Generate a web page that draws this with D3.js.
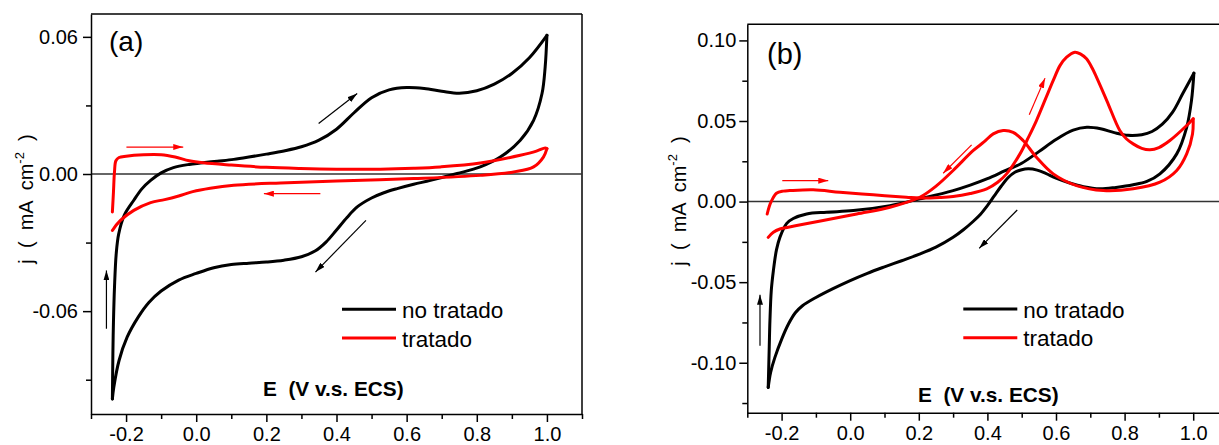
<!DOCTYPE html>
<html>
<head>
<meta charset="utf-8">
<script src="https://cdn.jsdelivr.net/npm/d3@7"></script>
<style>
  body { margin: 0; background: #fff; }
  text { font-family: "Liberation Sans", Arial, sans-serif; fill: #000; }
</style>
</head>
<body>
<svg id="chart" width="1219" height="445"></svg>
<script>
// ---------- Panel (a): cyclic voltammograms, E (V) vs j (mA cm^-2) ----------
const aUntreatedAnodic = [
  [-0.239,-0.0984],[-0.2376,-0.0786],[-0.236,-0.065],[-0.233,-0.0495],[-0.228,-0.0347],
  [-0.221,-0.0262],[-0.205,-0.018],[-0.178,-0.0115],[-0.155,-0.0065],[-0.13,-0.0028],
  [-0.1,0.0005],[-0.065,0.0028],[-0.02,0.0042],[0.012,0.0048],[0.06,0.0056],[0.107,0.0064],
  [0.15,0.0074],[0.2,0.0087],[0.25,0.0101],[0.3,0.0119],[0.35,0.0148],[0.4,0.0196],
  [0.45,0.0268],[0.5,0.0334],[0.55,0.0368],[0.6,0.0378],[0.65,0.0374],[0.7,0.0362],
  [0.75,0.0353],[0.8,0.0364],[0.85,0.0393],[0.9,0.044],[0.95,0.0509],[1.0,0.0607]
];
const aUntreatedCathodic = [
  [1.0,0.0607],[0.995,0.0469],[0.986,0.0352],[0.962,0.0235],[0.924,0.0148],[0.867,0.0074],
  [0.81,0.0031],[0.744,0.0002],[0.668,-0.0028],[0.62,-0.0045],[0.573,-0.0064],[0.535,-0.0082],
  [0.5,-0.0105],[0.46,-0.0143],[0.43,-0.019],[0.4,-0.0245],[0.37,-0.0298],[0.34,-0.0336],
  [0.3,-0.0362],[0.25,-0.0377],[0.2,-0.0385],[0.15,-0.039],[0.1,-0.0396],[0.05,-0.041],
  [0.0,-0.0435],[-0.05,-0.0464],[-0.1,-0.0512],[-0.135,-0.0562],[-0.165,-0.0625],
  [-0.197,-0.0714],[-0.22,-0.0816],[-0.235,-0.0933],[-0.239,-0.0984]
];
const aTreatedAnodic = [
  [-0.239,-0.0166],[-0.236,-0.008],[-0.233,0.001],[-0.229,0.0058],[-0.22,0.0072],
  [-0.2,0.0078],[-0.15,0.0084],[-0.1,0.0084],[-0.06,0.0074],[-0.02,0.0058],[0.02,0.0049],
  [0.1,0.0039],[0.2,0.0029],[0.297,0.0024],[0.4,0.0021],[0.525,0.0021],[0.62,0.0025],
  [0.696,0.0031],[0.81,0.0048],[0.924,0.0082],[0.97,0.01],[0.995,0.0114],[1.0,0.0111]
];
const aTreatedCathodic = [
  [1.0,0.0111],[0.99,0.0074],[0.962,0.0031],[0.905,0.0009],[0.81,-0.0006],[0.62,-0.002],
  [0.4,-0.0031],[0.24,-0.0039],[0.107,-0.0049],[0.04,-0.0062],[-0.01,-0.0077],
  [-0.05,-0.0096],[-0.09,-0.0112],[-0.13,-0.0125],[-0.178,-0.0159],[-0.216,-0.0203],
  [-0.239,-0.0247]
];

// ---------- Panel (b) ----------
const bUntreatedAnodic = [
  [-0.239,-0.1153],[-0.236,-0.09],[-0.234,-0.0739],[-0.23,-0.055],[-0.224,-0.0429],
  [-0.215,-0.03],[-0.205,-0.0222],[-0.185,-0.0135],[-0.166,-0.0105],[-0.127,-0.0077],
  [-0.069,-0.0066],[0.009,-0.0056],[0.116,-0.0025],[0.203,0.0017],[0.3,0.0068],
  [0.35,0.0102],[0.4,0.0142],[0.45,0.019],[0.5,0.0238],[0.55,0.031],[0.6,0.0385],
  [0.65,0.0443],[0.69,0.0461],[0.73,0.0452],[0.77,0.0428],[0.81,0.0411],[0.85,0.0415],
  [0.88,0.0435],[0.91,0.048],[0.94,0.0555],[0.97,0.0672],[1.002,0.0797]
];
const bUntreatedCathodic = [
  [1.002,0.0797],[0.995,0.0627],[0.981,0.0461],[0.952,0.0296],[0.903,0.0172],[0.865,0.0125],
  [0.825,0.0104],[0.775,0.0088],[0.728,0.0079],[0.68,0.0092],[0.64,0.0115],[0.6,0.0145],
  [0.57,0.0175],[0.545,0.0195],[0.52,0.0203],[0.5,0.0198],[0.48,0.0182],[0.46,0.0148],
  [0.44,0.0095],[0.42,0.0035],[0.4,-0.0025],[0.38,-0.0078],[0.359,-0.0122],[0.33,-0.0175],
  [0.3,-0.0222],[0.25,-0.0283],[0.2,-0.0328],[0.15,-0.0367],[0.1,-0.0405],[0.05,-0.0445],
  [0.0,-0.049],[-0.05,-0.054],[-0.1,-0.0595],[-0.14,-0.0648],[-0.16,-0.069],[-0.18,-0.076],
  [-0.2,-0.0855],[-0.22,-0.097],[-0.232,-0.106],[-0.239,-0.1153]
];
const bTreatedAnodic = [
  [-0.242,-0.0077],[-0.236,-0.003],[-0.229,0.0006],[-0.215,0.0052],[-0.195,0.0065],
  [-0.176,0.0068],[-0.108,0.0073],[-0.03,0.0058],[0.067,0.0042],[0.164,0.0027],
  [0.203,0.0022],[0.261,0.0025],[0.3,0.0031],[0.35,0.005],[0.398,0.0079],[0.43,0.012],
  [0.456,0.0172],[0.495,0.0296],[0.52,0.04],[0.543,0.0503],[0.57,0.064],[0.592,0.0752],
  [0.612,0.0845],[0.631,0.0896],[0.655,0.0927],[0.672,0.0915],[0.689,0.0886],[0.705,0.083],
  [0.718,0.0772],[0.748,0.0627],[0.786,0.0441],[0.805,0.039],[0.825,0.0358],[0.85,0.033],
  [0.874,0.0321],[0.9,0.0335],[0.932,0.0379],[0.981,0.0472],[1.0,0.0514]
];
const bTreatedCathodic = [
  [1.0,0.0514],[0.998,0.042],[0.981,0.0296],[0.952,0.0193],[0.903,0.012],[0.825,0.0079],
  [0.738,0.0068],[0.66,0.0099],[0.592,0.0172],[0.543,0.0275],[0.504,0.0379],[0.475,0.043],
  [0.446,0.0441],[0.417,0.042],[0.39,0.037],[0.359,0.0317],[0.3,0.0193],[0.252,0.0099],
  [0.203,0.0027],[0.116,-0.0035],[0.019,-0.0077],[-0.079,-0.0118],[-0.156,-0.0149],
  [-0.205,-0.017],[-0.224,-0.019],[-0.239,-0.0222]
];

// ---------- Scan-direction arrows: [E1, j1, E2, j2, series] ----------
const aArrows = [
  [0.349,0.0221,0.459,0.0352,"no tratado"],
  [0.484,-0.0203,0.340,-0.0429,"no tratado"],
  [-0.256,-0.0677,-0.256,-0.0422,"no tratado"],
  [-0.199,0.0118,-0.037,0.0118,"tratado"],
  [0.354,-0.0086,0.193,-0.0086,"tratado"]
];
const bArrows = [
  [-0.263,-0.0894,-0.263,-0.0578,"no tratado"],
  [0.487,-0.0052,0.376,-0.029,"no tratado"],
  [-0.198,0.013,-0.064,0.013,"tratado"],
  [0.354,0.0352,0.271,0.0176,"tratado"],
  [0.522,0.0539,0.568,0.0766,"tratado"]
];

// ---------- Axes ticks and labels ----------
const xDomain = [-0.3, 1.1];
const xMajor = [-0.2, 0.0, 0.2, 0.4, 0.6, 0.8, 1.0];
const xMajorLabels = ["-0.2", "0.0", "0.2", "0.4", "0.6", "0.8", "1.0"];
const xMinor = [-0.3, -0.1, 0.1, 0.3, 0.5, 0.7, 0.9, 1.1];

const aYDomain = [-0.105, 0.07];
const aYMajor = [-0.06, 0.0, 0.06];
const aYMajorLabels = ["-0.06", "0.00", "0.06"];
const aYMinor = [-0.09, -0.03, 0.03];

const bYDomain = [-0.131, 0.11];
const bYMajor = [-0.10, -0.05, 0.0, 0.05, 0.10];
const bYMajorLabels = ["-0.10", "-0.05", "0.00", "0.05", "0.10"];
const bYMinor = [-0.125, -0.075, -0.025, 0.025, 0.075];

const seriesNames = ["no tratado", "tratado"];
const seriesColors = ["#000000", "#ff0000"];
const xTitle = "E  (V v.s. ECS)";

const color = d3.scaleOrdinal().domain(seriesNames).range(seriesColors);
const svg = d3.select("#chart");

// arrowhead markers, one per series colour
const defs = svg.append("defs");
seriesNames.forEach((name, i) => {
  defs.append("marker")
    .attr("id", "head" + i)
    .attr("viewBox", "0 0 10 6")
    .attr("refX", 10).attr("refY", 3)
    .attr("markerWidth", 10).attr("markerHeight", 6)
    .attr("markerUnits", "userSpaceOnUse")
    .attr("orient", "auto")
    .append("path")
    .attr("d", "M0,0 L10,3 L0,6 Z")
    .attr("fill", color(name));
});

function drawPanel(p) {
  const x = d3.scaleLinear().domain(xDomain).range([p.left, p.right]);
  const y = d3.scaleLinear().domain(p.yDomain).range([p.bottom, p.top]);
  const g = svg.append("g");

  // frame: top and right edges
  g.append("line").attr("x1", p.left).attr("x2", p.right).attr("y1", p.top).attr("y2", p.top)
    .attr("stroke", "#000").attr("stroke-width", 1.5);
  g.append("line").attr("x1", p.right).attr("x2", p.right).attr("y1", p.top).attr("y2", p.bottom)
    .attr("stroke", "#000").attr("stroke-width", 1.5);

  // zero-current reference line
  g.append("line").attr("x1", p.left).attr("x2", p.right).attr("y1", y(0)).attr("y2", y(0))
    .attr("stroke", "#333").attr("stroke-width", 1.5);

  // x axis
  const xa = g.append("g").attr("transform", `translate(0,${p.bottom})`)
    .call(d3.axisBottom(x).tickValues(xMajor).tickSize(8).tickPadding(5)
      .tickFormat((d, i) => xMajorLabels[i]).tickSizeOuter(0));
  g.append("g").attr("transform", `translate(0,${p.bottom})`)
    .call(d3.axisBottom(x).tickValues(xMinor).tickSize(5).tickFormat("").tickSizeOuter(0))
    .call(s => s.select(".domain").remove());

  // y axis
  const ya = g.append("g").attr("transform", `translate(${p.left},0)`)
    .call(d3.axisLeft(y).tickValues(p.yMajor).tickSize(8).tickPadding(p.yPad)
      .tickFormat((d, i) => p.yMajorLabels[i]).tickSizeOuter(0));
  g.append("g").attr("transform", `translate(${p.left},0)`)
    .call(d3.axisLeft(y).tickValues(p.yMinor).tickSize(5).tickFormat("").tickSizeOuter(0))
    .call(s => s.select(".domain").remove());

  [xa, ya].forEach(a => {
    a.select(".domain").attr("stroke-width", 1.5);
    a.selectAll("text").attr("font-size", 20).style("font-family", '"Liberation Sans", Arial, sans-serif');
  });
  g.selectAll(".tick line").attr("stroke-width", 1.5);

  // curves
  const line = d3.line().x(d => x(d[0])).y(d => y(d[1])).curve(d3.curveCatmullRom.alpha(0.5));
  p.curves.forEach(c => {
    g.append("path").attr("d", line(c.data)).attr("fill", "none")
      .attr("stroke", color(c.name)).attr("stroke-width", 3)
      .attr("stroke-linejoin", "round").attr("stroke-linecap", "round");
  });

  // scan-direction arrows
  p.arrows.forEach(a => {
    g.append("line")
      .attr("x1", x(a[0])).attr("y1", y(a[1])).attr("x2", x(a[2])).attr("y2", y(a[3]))
      .attr("stroke", color(a[4])).attr("stroke-width", 1.2)
      .attr("marker-end", `url(#head${seriesNames.indexOf(a[4])})`);
  });

  // panel tag
  g.append("text").attr("x", p.tag.x).attr("y", p.tag.y).attr("font-size", p.tag.size).text(p.tag.text);

  // axis titles
  g.append("text").attr("x", p.xTitle.x).attr("y", p.xTitle.y)
    .attr("font-size", 20.8).attr("font-weight", "bold").style("white-space", "pre").text(xTitle);

  const yt = g.append("text")
    .attr("transform", `translate(${p.yTitle.x},${p.yTitle.y}) rotate(-90)`)
    .attr("text-anchor", "middle").attr("font-size", 20).style("white-space", "pre");
  yt.append("tspan").text("j  (  mA  cm");
  yt.append("tspan").attr("font-size", 13).attr("dy", -9).text("-2");
  yt.append("tspan").attr("dy", 9).text("  )");

  // legend
  seriesNames.forEach((name, i) => {
    const ly = p.legend.y + i * 28.7;
    g.append("line").attr("x1", p.legend.x).attr("x2", p.legend.x + 54)
      .attr("y1", ly).attr("y2", ly).attr("stroke", color(name)).attr("stroke-width", 3);
    g.append("text").attr("x", p.legend.x + 60).attr("y", ly + 8.5)
      .attr("font-size", 22.5).text(name);
  });
}

drawPanel({
  left: 91, right: 582, top: 14, bottom: 414,
  yDomain: aYDomain, yMajor: aYMajor, yMajorLabels: aYMajorLabels, yMinor: aYMinor, yPad: 5,
  curves: [
    { name: "no tratado", data: aUntreatedAnodic },
    { name: "no tratado", data: aUntreatedCathodic },
    { name: "tratado", data: aTreatedAnodic },
    { name: "tratado", data: aTreatedCathodic }
  ],
  arrows: aArrows,
  tag: { x: 109, y: 51, size: 28, text: "(a)" },
  xTitle: { x: 263, y: 396 },
  yTitle: { x: 33, y: 199 },
  legend: { x: 342, y: 309.3 }
});

drawPanel({
  left: 747.3, right: 1227.5, top: 24.3, bottom: 412.7,
  yDomain: bYDomain, yMajor: bYMajor, yMajorLabels: bYMajorLabels, yMinor: bYMinor, yPad: 3,
  curves: [
    { name: "no tratado", data: bUntreatedAnodic },
    { name: "no tratado", data: bUntreatedCathodic },
    { name: "tratado", data: bTreatedAnodic },
    { name: "tratado", data: bTreatedCathodic }
  ],
  arrows: bArrows,
  tag: { x: 767, y: 64, size: 29, text: "(b)" },
  xTitle: { x: 918, y: 401.5 },
  yTitle: { x: 686, y: 201 },
  legend: { x: 963.3, y: 309 }
});
</script>
</body>
</html>
